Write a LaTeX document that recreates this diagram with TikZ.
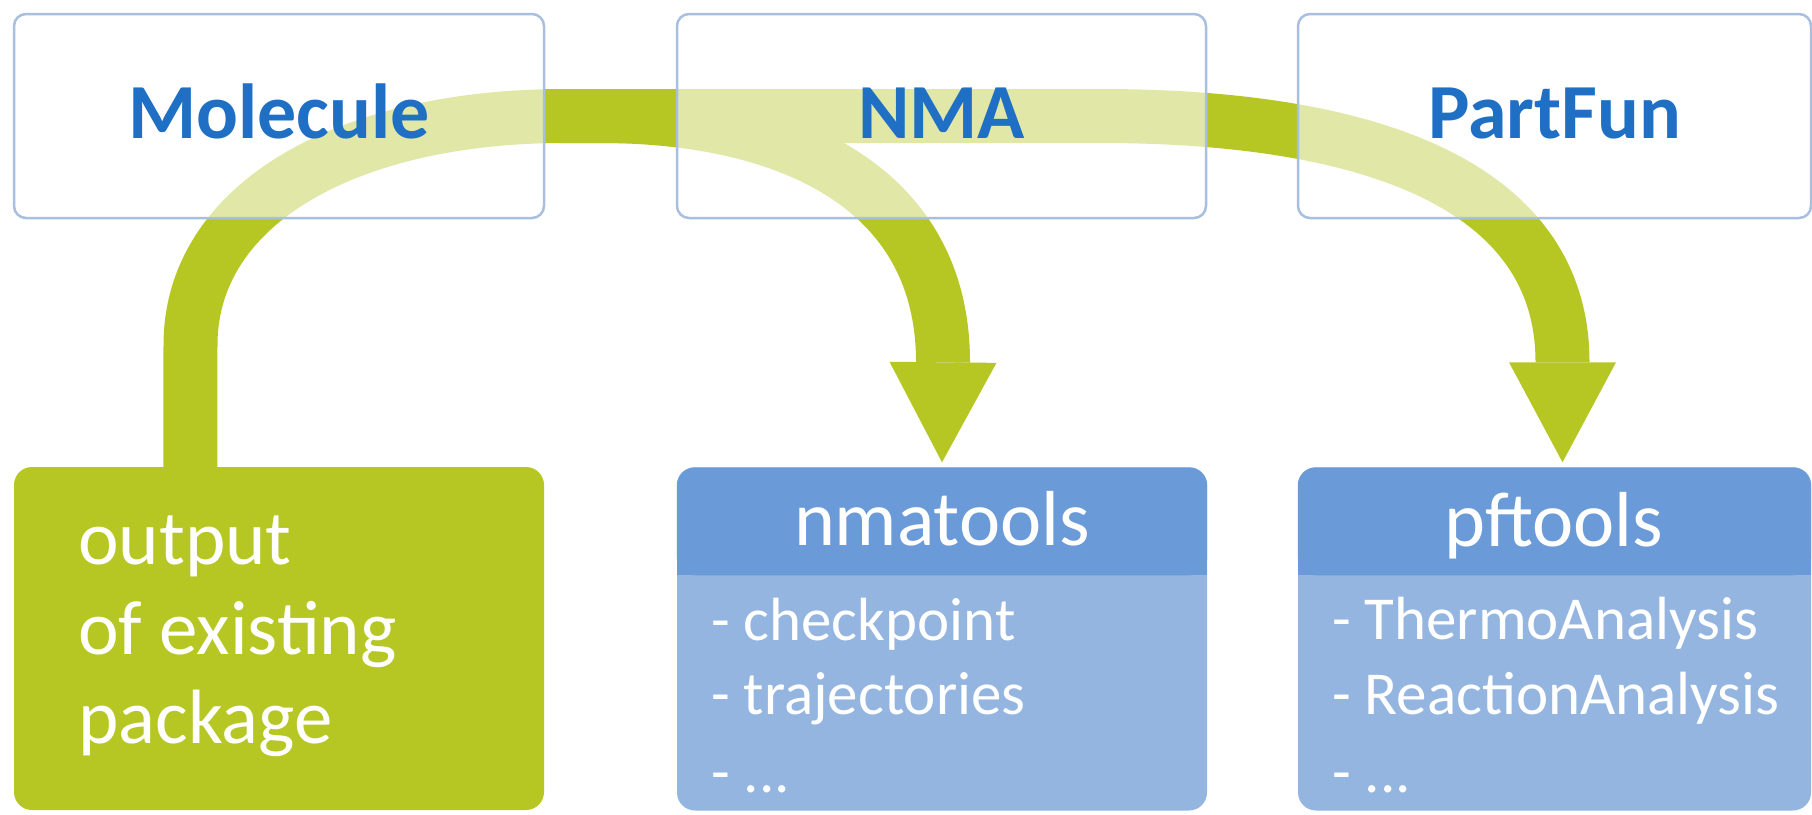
\documentclass[tikz,border=0pt]{standalone}
\usepackage{fontspec}
\setmainfont{Carlito}
\usetikzlibrary{arrows.meta,calc}
\definecolor{lime}{RGB}{182,199,36}
\definecolor{tblue}{RGB}{31,112,196}
\definecolor{bord}{RGB}{168,191,224}
\definecolor{hdr}{RGB}{106,155,216}
\definecolor{bdy}{RGB}{148,181,224}
\begin{document}
\begin{tikzpicture}[x=1pt,y=-1pt,
  topbox/.style={draw=bord, line width=2.5pt, rounded corners=12pt, fill=white,
    fill opacity=0.6, text opacity=1, minimum width=#1, minimum height=204pt,
    inner sep=0pt, text height=44pt, text depth=0pt,
    font=\fontsize{78}{90}\selectfont\bfseries, text=tblue},
  botbox/.style={rounded corners=18pt, fill=#1, minimum height=343pt, inner sep=0pt},
  arw/.style={draw=lime, line width=54pt,
    -{Triangle[length=100pt, width=107pt, line width=0pt]}},
  ttl/.style={text=white, inner sep=0pt, anchor=base, font=\fontsize{78}{90}\selectfont},
  itm/.style={text=white, inner sep=0pt, anchor=base west, font=\fontsize{61}{70}\selectfont},
  grt/.style={text=white, inner sep=0pt, anchor=base west, font=\fontsize{77}{90}\selectfont}]
\useasboundingbox (0,0) rectangle (1812,814);
\fill[white] (0,0) rectangle (1812,814);
% bottom boxes (nodes)
\node[botbox=lime, minimum width=530pt] (gr) at (279,638.5) {};
\node[botbox=bdy, minimum width=530pt] (nt) at (942,639) {};
\node[botbox=bdy, minimum width=513pt] (pt) at (1554.5,639) {};
% headers
\fill[hdr, rounded corners=18pt] (nt.north west) rectangle ($(nt.north east)+(0,108)$);
\fill[hdr] ($(nt.north west)+(0,80)$) rectangle ($(nt.north east)+(0,108)$);
\fill[hdr, rounded corners=18pt] (pt.north west) rectangle ($(pt.north east)+(0,108)$);
\fill[hdr] ($(pt.north west)+(0,80)$) rectangle ($(pt.north east)+(0,108)$);
% connector coordinates
\coordinate (gs) at ($(gr.north west)+(176.5,6)$);
\coordinate (ntip) at ($(nt.north)+(0,-5)$);
\coordinate (ptip) at ($(pt.north)+(8,-5)$);
\coordinate (bs) at (560,116);
% arrows
\draw[arw] (gs) -- (190.5,345) .. controls (190.5,205) and (345,116) .. (565,116)
  -- (600,116) .. controls (785,116) and (943,185) .. (943,362) -- (ntip);
\draw[arw] (bs) -- (1100,116) .. controls (1380,116) and (1562.5,190) .. (1562.5,362) -- (ptip);
% top boxes
\node[topbox=530pt] (mol) at (279,116) {Molecule};
\node[topbox=529pt] (nma) at (941.5,116) {NMA};
\node[topbox=513pt] (pf) at (1554.5,116) {PartFun};
% texts
\node[grt] (g1) at (78,564) {output};
\node[grt] (g2) at (78,654) {of existing};
\node[grt] (g3) at (78,743) {package};
\node[ttl] (ntt) at (942,545) {nmatools};
\node[itm] (n1) at (711,640) {- checkpoint};
\node[itm] (n2) at (711,714) {- trajectories};
\node[itm] (n3) at (711,792) {- ...};
\node[ttl] (ptt) at (1554,546) {pftools};
\node[itm] (p1) at (1332,639) {- ThermoAnalysis};
\node[itm] (p2) at (1332,714) {- ReactionAnalysis};
\node[itm] (p3) at (1332,792) {- ...};
\end{tikzpicture}
\end{document}
